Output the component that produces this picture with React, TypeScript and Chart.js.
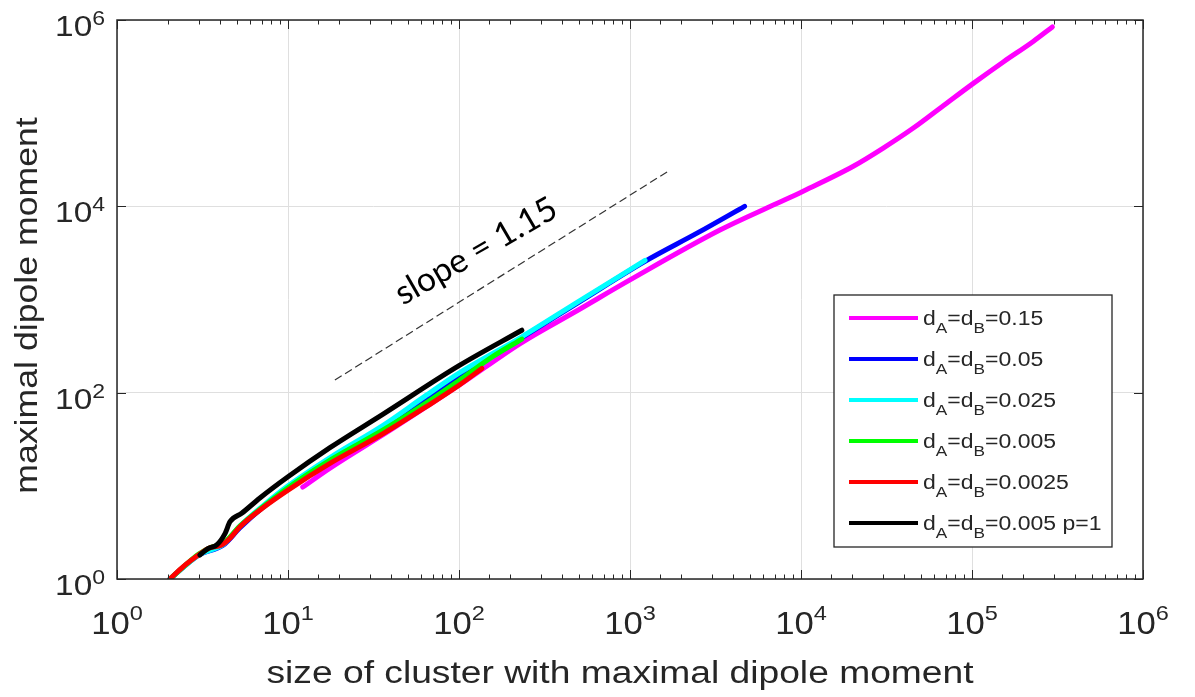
import React, { useEffect, useRef } from 'react';
import { Chart, registerables } from 'chart.js';

Chart.register(...registerables);

// Decade tick exponents on each axis
const X_EXPONENTS = [0, 1, 2, 3, 4, 5, 6];
const Y_EXPONENTS = [0, 2, 4, 6];

// Cluster size (x) vs. maximal dipole moment (y) for each run
const d015X = [12.2, 17.6, 39.8, 100, 229, 501, 1000, 3357, 7211, 10090, 20230, 30270, 45390, 67920, 101800, 152400, 228000, 295100];
const d015Y = [9.7, 15.5, 39.8, 120, 339, 776, 1622, 5559, 10720, 14290, 26920, 42170, 69180, 120200, 208900, 354800, 588800, 843300];

const d005X = [2.04, 3.02, 4.17, 5.24, 7.08, 10, 17.8, 36, 100, 233, 501, 1224, 2512, 4677];
const d005Y = [1, 1.82, 2.3, 3.55, 5.8, 9.2, 19.5, 42.7, 151, 389, 933, 2570, 5248, 10000];

const d0025X = [2.04, 3.02, 4.17, 5.25, 7.08, 10, 17.8, 36, 63, 100, 233, 501, 1224];
const d0025Y = [1, 1.82, 2.34, 3.72, 6.03, 10, 20.4, 44.7, 91.2, 162, 398, 955, 2630];

const d0005X = [2.04, 2.51, 3.02, 3.55, 4.17, 5.25, 7.08, 10, 17.8, 36, 63, 100, 158, 233];
const d0005Y = [1.0, 1.41, 1.86, 2.19, 2.4, 3.72, 5.89, 9.55, 19.1, 39.8, 75.9, 135, 245, 376];

const d00025X = [2.04, 2.44, 2.99, 3.42, 4.09, 4.58, 5.24, 7.08, 10, 17.6, 36, 63, 100, 136];
const d00025Y = [1.0, 1.36, 1.81, 2.13, 2.32, 2.74, 3.64, 5.75, 9.0, 17.4, 36.3, 69, 120, 182];

const p1X = [3.05, 3.42, 3.83, 4.29, 4.58, 5.36, 6.85, 10, 17.6, 36, 100, 233];
const p1Y = [1.81, 2.13, 2.32, 3.09, 4.12, 5.07, 7.4, 12.5, 25.7, 58.9, 195, 468];

// Legend values (d_A = d_B = ...)
const legendValues = ['0.15', '0.05', '0.025', '0.005', '0.0025', '0.005 p=1'];
const seriesColors = ['#ff00ff', '#0000ff', '#00ffff', '#00ff00', '#ff0000', '#000000'];
const seriesXs = [d015X, d005X, d0025X, d0005X, d00025X, p1X];
const seriesYs = [d015Y, d005Y, d0025Y, d0005Y, d00025Y, p1Y];

// Guide line with the stated slope, through an anchor point, spanning a cluster-size range
const SLOPE = 1.15;
const slopeAnchor = { x: 177.4, y: 1804 };
const slopeRange = [18.8, 1668];
const slopeLabel = 'slope = 1.15';
const slopeLabelAt = { x: 125.7, y: 3304 };

const X_TITLE = 'size of cluster with maximal dipole moment';
const Y_TITLE = 'maximal dipole moment';

const INK = '#262626';
const GRID = '#dfdfdf';
const SANS = '"Liberation Sans", Arial, Helvetica, sans-serif';

const isDecade = (v: number) => {
  const e = Math.log10(v);
  return Math.abs(e - Math.round(e)) < 1e-9;
};

function drawStretched(ctx: CanvasRenderingContext2D, text: string, x: number, y: number, sx: number) {
  ctx.save();
  ctx.translate(x, y);
  ctx.scale(sx, 1);
  ctx.fillText(text, 0, 0);
  ctx.restore();
  return ctx.measureText(text).width * sx;
}

type PowerFont = { base: number; sup: number; sx: number; rise: number };

function drawPower(ctx: CanvasRenderingContext2D, exp: number, anchorX: number, baseY: number, align: 'center' | 'right', f: PowerFont) {
  ctx.font = `${f.base}px ${SANS}`;
  const w1 = ctx.measureText('10').width * f.sx;
  ctx.font = `${f.sup}px ${SANS}`;
  const w2 = ctx.measureText(String(exp)).width * f.sx;
  const left = align === 'center' ? anchorX - (w1 + w2) / 2 : anchorX - (w1 + w2);
  ctx.font = `${f.base}px ${SANS}`;
  drawStretched(ctx, '10', left, baseY, f.sx);
  ctx.font = `${f.sup}px ${SANS}`;
  drawStretched(ctx, String(exp), left + w1, baseY - f.rise, f.sx);
}

function drawLegendLabel(ctx: CanvasRenderingContext2D, value: string, x: number, baseY: number) {
  const sx = 1.15;
  const parts: { t: string; sub?: boolean }[] = [
    { t: 'd' }, { t: 'A', sub: true }, { t: '=d' }, { t: 'B', sub: true }, { t: '=' + value },
  ];
  let cx = x;
  for (const p of parts) {
    ctx.font = p.sub ? `15px ${SANS}` : `20px ${SANS}`;
    cx += drawStretched(ctx, p.t, cx, p.sub ? baseY + 8 : baseY, sx);
  }
}

const axesDecor = {
  id: 'axesDecor',
  afterDatasetsDraw(chart: any) {
    const { ctx, chartArea: a, scales } = chart;
    const xs = scales.x;
    const ys = scales.y;
    ctx.save();

    // inward tick marks
    ctx.strokeStyle = INK;
    ctx.lineWidth = 1;
    ctx.beginPath();
    for (const t of xs.ticks) {
      const px = Math.round(xs.getPixelForValue(t.value)) + 0.5;
      const len = isDecade(t.value) ? 9 : 4.5;
      ctx.moveTo(px, a.bottom); ctx.lineTo(px, a.bottom - len);
      ctx.moveTo(px, a.top); ctx.lineTo(px, a.top + len);
    }
    for (const e of Y_EXPONENTS) {
      const py = Math.round(ys.getPixelForValue(Math.pow(10, e))) + 0.5;
      ctx.moveTo(a.left, py); ctx.lineTo(a.left + 9, py);
      ctx.moveTo(a.right, py); ctx.lineTo(a.right - 9, py);
    }
    ctx.stroke();

    // axes box
    ctx.lineWidth = 1.5;
    ctx.strokeRect(a.left, a.top, a.right - a.left, a.bottom - a.top);

    // tick labels
    ctx.fillStyle = INK;
    ctx.textAlign = 'left';
    ctx.textBaseline = 'alphabetic';
    for (const e of X_EXPONENTS) {
      const px = xs.getPixelForValue(Math.pow(10, e));
      drawPower(ctx, e, px, a.bottom + 55, 'center', { base: 31, sup: 21, sx: 1.12, rise: 14 });
    }
    for (const e of Y_EXPONENTS) {
      const py = ys.getPixelForValue(Math.pow(10, e));
      drawPower(ctx, e, a.left - 12, py + 16, 'right', { base: 29, sup: 20, sx: 1.15, rise: 11 });
    }

    // axis titles
    ctx.font = `31px ${SANS}`;
    const xw = ctx.measureText(X_TITLE).width * 1.2;
    drawStretched(ctx, X_TITLE, 620 - xw / 2, a.bottom + 104, 1.2);
    ctx.save();
    ctx.translate(37, (a.top + a.bottom) / 2 + 6);
    ctx.rotate(-Math.PI / 2);
    const yw = ctx.measureText(Y_TITLE).width * 1.15;
    drawStretched(ctx, Y_TITLE, -yw / 2, 0, 1.15);
    ctx.restore();

    // slope annotation
    const lx = xs.getPixelForValue(slopeLabelAt.x);
    const ly = ys.getPixelForValue(slopeLabelAt.y);
    ctx.save();
    ctx.translate(lx, ly);
    ctx.rotate((-30 * Math.PI) / 180);
    ctx.font = `32px Lato, "Open Sans", sans-serif`;
    const fit = 181 / ctx.measureText(slopeLabel).width;
    ctx.font = `${(32 * fit).toFixed(1)}px Lato, "Open Sans", sans-serif`;
    ctx.fillStyle = '#000000';
    ctx.textAlign = 'center';
    ctx.textBaseline = 'middle';
    ctx.fillText(slopeLabel, 0, 0);
    ctx.restore();

    // legend
    const box = { l: 834, t: 295, r: 1112, b: 547 };
    ctx.fillStyle = '#ffffff';
    ctx.fillRect(box.l, box.t, box.r - box.l, box.b - box.t);
    ctx.strokeStyle = INK;
    ctx.lineWidth = 1.3;
    ctx.strokeRect(box.l, box.t, box.r - box.l, box.b - box.t);
    ctx.textAlign = 'left';
    ctx.textBaseline = 'alphabetic';
    legendValues.forEach((v, i) => {
      const rowY = 318 + i * 41;
      ctx.strokeStyle = seriesColors[i];
      ctx.lineWidth = 4;
      ctx.beginPath();
      ctx.moveTo(849, rowY);
      ctx.lineTo(918, rowY);
      ctx.stroke();
      ctx.fillStyle = INK;
      drawLegendLabel(ctx, v, 923, rowY + 7);
    });

    ctx.restore();
  },
};

export default function App() {
  const canvasRef = useRef<HTMLCanvasElement | null>(null);

  useEffect(() => {
    const canvas = canvasRef.current;
    if (!canvas) return;

    const datasets: any[] = legendValues.map((v, i) => ({
      label: `dA=dB=${v}`,
      data: seriesXs[i].map((x, j) => ({ x, y: seriesYs[i][j] })),
      borderColor: seriesColors[i],
      backgroundColor: seriesColors[i],
      borderWidth: 5,
      borderCapStyle: 'round',
      borderJoinStyle: 'round',
      pointRadius: 0,
      showLine: true,
      cubicInterpolationMode: 'monotone',
      order: legendValues.length - 1 - i,
    }));

    datasets.push({
      label: slopeLabel,
      data: slopeRange.map((x) => ({ x, y: slopeAnchor.y * Math.pow(x / slopeAnchor.x, SLOPE) })),
      borderColor: '#333333',
      borderWidth: 1.2,
      borderDash: [8, 4],
      pointRadius: 0,
      showLine: true,
      order: 10,
    });

    const gridColor = (axis: 'x' | 'y') => (c: any) => {
      const v = c.tick?.value;
      if (!v || !isDecade(v)) return 'rgba(0,0,0,0)';
      if (axis === 'y' && Math.round(Math.log10(v)) % 2 !== 0) return 'rgba(0,0,0,0)';
      return GRID;
    };

    const chart = new Chart(canvas, {
      type: 'scatter',
      data: { datasets },
      options: {
        animation: false,
        responsive: false,
        devicePixelRatio: 1,
        events: [],
        layout: { padding: { left: 117, top: 20, right: 52, bottom: 118 } },
        plugins: { legend: { display: false }, tooltip: { enabled: false } },
        scales: {
          x: {
            type: 'logarithmic',
            min: 1,
            max: 1e6,
            ticks: { display: false },
            grid: { color: gridColor('x'), drawTicks: false, lineWidth: 1 },
            border: { display: false },
            afterFit: (s: any) => { s.height = 0; },
          },
          y: {
            type: 'logarithmic',
            min: 1,
            max: 1e6,
            ticks: { display: false },
            grid: { color: gridColor('y'), drawTicks: false, lineWidth: 1 },
            border: { display: false },
            afterFit: (s: any) => { s.width = 0; },
          },
        },
      } as any,
      plugins: [axesDecor],
    });

    return () => chart.destroy();
  }, []);

  return (
    <canvas
      ref={canvasRef}
      width={1195}
      height={697}
      style={{ position: 'fixed', left: 0, top: 0, display: 'block', background: '#ffffff' }}
    />
  );
}
